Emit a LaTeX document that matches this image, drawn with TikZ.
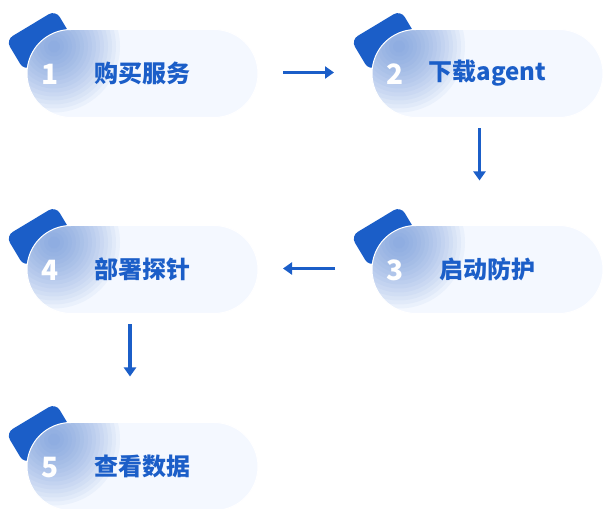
\documentclass[tikz,border=0pt]{standalone}
\usepackage{fontspec}
\setmainfont{Noto Sans CJK SC}
\usepackage{tikz}
\usetikzlibrary{positioning}
\usetikzlibrary{arrows.meta}
\usetikzlibrary{backgrounds}
\definecolor{stepBlue}{HTML}{1B5EC8}
\definecolor{pillBody}{HTML}{F4F8FF}
\definecolor{glassBlue}{HTML}{5A86D6}
\tikzstyle{pill} = [rectangle, rounded corners=44pt, minimum width=231pt, minimum height=88pt,
        inner sep=0pt, outer sep=0pt, fill=pillBody, draw=white, line width=1pt,
        text=stepBlue, font={\fontsize{24}{24}\selectfont\bfseries},
        path picture={\foreach \r in {66,62,...,6}
            \fill[glassBlue, opacity=0.06] ([shift={(27pt,-17pt)}]path picture bounding box.north west) circle (\r pt);}]
\tikzstyle{tab} = [rectangle, rounded corners=8pt, minimum width=58pt, minimum height=36pt,
        inner sep=0pt, fill=stepBlue, rotate=31]
\tikzstyle{num} = [inner sep=0pt, text=white, font={\fontsize{28}{28}\selectfont\bfseries}]
\tikzstyle{flow} = [draw=stepBlue, line width=3.5pt, -{Triangle[width=12pt,length=9pt]}]

\begin{document}
\begin{tikzpicture}[x=1pt, y=1pt]
    \useasboundingbox (0,0) rectangle (603,509);
    % the five steps
    \node[pill] (buy) at (142.5,435.5) {购买服务};
    \node[pill, right=114pt of buy] (agent) {下载agent};
    \node[pill, below=108pt of agent] (guard) {启动防护};
    \node[pill, left=114pt of guard] (probe) {部署探针};
    \node[pill, below=109pt of probe] (data) {查看数据};
    % tabs behind the pills
    \begin{scope}[on background layer]
        \foreach \p in {buy,agent,guard,probe,data}
            \node[tab] (\p-tab) at ([shift={(13pt,-11pt)}]\p.north west) {};
    \end{scope}
    \foreach \p/\n in {buy/1,agent/2,guard/3,probe/4,data/5}
        \node[num] (\p-num) at ([shift={(23pt,-1pt)}]\p.west) {\n};
    % arrows
    \draw[flow] ([shift={(25pt,1pt)}]buy.east) -- ([shift={(-38pt,1pt)}]agent.west);
    \draw[flow] ([shift={(-8pt,-11pt)}]agent.south) -- ([shift={(-8pt,45pt)}]guard.north);
    \draw[flow] ([shift={(-37pt,1pt)}]guard.west) -- ([shift={(25pt,1pt)}]probe.east);
    \draw[flow] ([shift={(-12.5pt,-11pt)}]probe.south) -- ([shift={(-12.5pt,46pt)}]data.north);
\end{tikzpicture}
\end{document}
